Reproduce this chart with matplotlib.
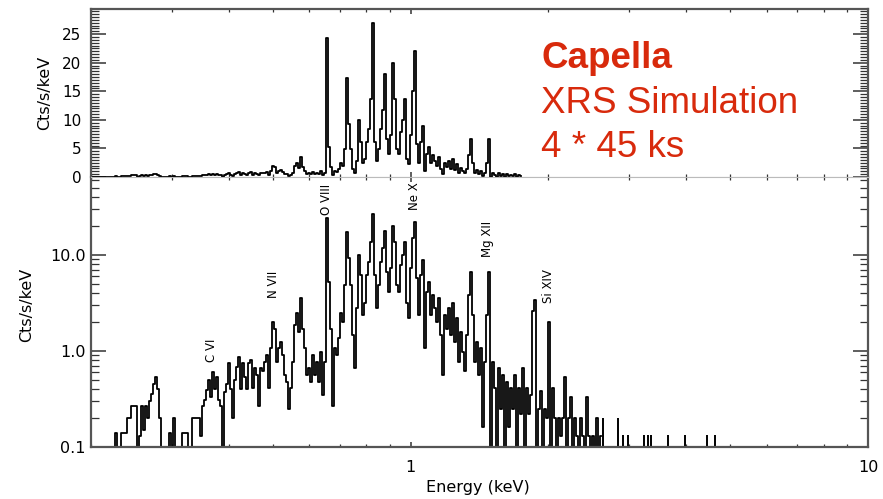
import numpy as np
import matplotlib.pyplot as plt
from matplotlib.ticker import (MultipleLocator, LogLocator, FixedLocator,
                               FixedFormatter, NullFormatter)

# Capella spectrum, XRS simulation (4 x 45 ks), binned on a log energy grid
e_lo, e_hi, n_bins = 0.2014, 2.6047, 255
energy = np.geomspace(e_lo, e_hi, n_bins)          # keV
counts = np.array([                                  # Cts/s/keV
    0, 0, 0, 0, 0, 0, 0, 0, 0, 0,
    0, 0, 0.14, 0, 0, 0.14, 0.14, 0.14, 0.2, 0.2,
    0.27, 0.27, 0.27, 0, 0.13, 0.27, 0.15, 0.27, 0.2, 0.3,
    0.36, 0.45, 0.54, 0.4, 0.2, 0, 0, 0, 0, 0.14,
    0, 0.2, 0, 0, 0, 0.14, 0.14, 0.14, 0, 0,
    0.2, 0.2, 0.2, 0.2, 0.13, 0.27, 0.31, 0.39, 0.5, 0.33,
    0.6, 0.4, 0.54, 0.31, 0.27, 0, 0.37, 0.45, 0.75, 0.4,
    0.2, 0.5, 0.68, 0.86, 0.4, 0.75, 0.54, 0.4, 0.75, 0.81,
    0.41, 0.66, 0.56, 0.27, 0.66, 0.62, 0.77, 0.91, 0.41, 1.07,
    2.0, 1.7, 0.77, 1.07, 1.24, 0.91, 0.56, 0.48, 0.25, 0.41,
    0.77, 1.86, 2.5, 1.58, 3.55, 1.7, 1.07, 0.56, 0.66, 0.48,
    0.91, 0.56, 0.77, 0.48, 0.98, 0.35, 0.77, 24.3, 5.2, 1.7,
    0.27, 1.07, 0.91, 1.37, 2.5, 2.0, 4.9, 17.4, 9.3, 4.9,
    1.47, 0.66, 2.8, 10.0, 6.2, 2.37, 3.2, 6.2, 8.4, 13.6,
    27.0, 6.2, 2.8, 4.9, 8.4, 11.8, 18.0, 6.6, 4.1, 7.3,
    20.0, 13.6, 4.9, 4.1, 7.9, 10.0, 13.6, 3.2, 2.2, 7.3,
    15.0, 22.0, 5.8, 2.4, 6.2, 8.9, 1.07, 4.1, 5.2, 2.4,
    3.8, 2.8, 2.0, 3.55, 1.47, 0.56, 2.4, 1.7, 2.8, 1.47,
    3.2, 1.24, 2.2, 0.77, 1.58, 0.98, 0.62, 1.47, 3.8, 6.6,
    2.4, 0.77, 1.24, 0.56, 1.07, 0.16, 0.77, 2.4, 6.6, 0,
    0.77, 0.41, 0, 0.66, 0.25, 0.56, 0, 0.48, 0.16, 0.41,
    0.25, 0.56, 0, 0.41, 0.22, 0.66, 0, 0.41, 0.22, 0.35,
    2.6, 3.4, 0, 0.25, 0.38, 0, 0.25, 0.2, 2.0, 0,
    0.41, 0.2, 0, 0.2, 0.13, 0.2, 0.53, 0, 0.2, 0.33,
    0, 0.2, 0.13, 0, 0.2, 0.13, 0, 0.33, 0.13, 0,
    0.13, 0, 0.2, 0, 0.13,
])

# single-count bins above 2.6 keV
tail_energy = [2.631, 2.838, 2.910, 2.985, 3.234, 3.301, 3.351, 3.650,
               3.978, 4.443, 4.627]
tail_counts = [0.2, 0.2, 0.133, 0.133, 0.133, 0.133, 0.133, 0.133,
               0.133, 0.133, 0.133]

# line identifications
line_names = ['C VI', 'N VII', 'O VIII', 'Ne X', 'Mg XII', 'Si XIV']
line_energy = [0.3675, 0.5003, 0.6536, 1.0217, 1.4723, 2.0056]
label_level = [0.77, 3.56, 26.1, 29.4, 9.5, 3.16]

top_cut = 1.75   # upper panel only shows the soft band

red = '#d82a0c'
spine_col = '#555555'
plt.rcParams['font.family'] = ['DejaVu Sans']

fig = plt.figure(figsize=(8.83, 4.99), dpi=100)
ax_top = fig.add_axes([0.1031, 0.6453, 0.8800, 0.3367])
ax_bot = fig.add_axes([0.1031, 0.1042, 0.8800, 0.5411], sharex=ax_top)

# upper panel: linear
sel = energy <= top_cut
ax_top.step(energy[sel], counts[sel], where='mid', color='black', lw=1.3,
            clip_on=False, zorder=3)
ax_top.set_ylim(0, 29.4)
ax_top.yaxis.set_major_locator(MultipleLocator(5))
ax_top.yaxis.set_minor_locator(MultipleLocator(0.5))
ax_top.set_ylabel('Cts/s/keV', fontsize=11.5)
ax_top.yaxis.set_label_coords(-0.050, 0.5)
ax_top.tick_params(axis='x', labelbottom=False)

# lower panel: log-log
floor = np.where(counts > 0, counts, 1e-3)
ax_bot.step(energy, floor, where='mid', color='black', lw=1.3)
ax_bot.vlines(tail_energy, 1e-3, tail_counts, color='black', lw=1.4)
ax_bot.set_xscale('log')
ax_bot.set_yscale('log')
ax_bot.set_xlim(0.2, 10)
ax_bot.set_ylim(0.1, 65)

ax_bot.xaxis.set_major_locator(FixedLocator([1, 10]))
ax_bot.xaxis.set_major_formatter(FixedFormatter(['1', '10']))
ax_bot.xaxis.set_minor_locator(LogLocator(base=10, subs=np.arange(2, 10)))
ax_bot.xaxis.set_minor_formatter(NullFormatter())
ax_bot.yaxis.set_major_locator(FixedLocator([0.1, 1, 10]))
ax_bot.yaxis.set_major_formatter(FixedFormatter(['0.1', '1.0', '10.0']))
ax_bot.yaxis.set_minor_locator(LogLocator(base=10, subs=np.arange(2, 10)))
ax_bot.yaxis.set_minor_formatter(NullFormatter())

ax_bot.set_xlabel('Energy (keV)', fontsize=11.5)
ax_bot.xaxis.set_label_coords(0.498, -0.122)
ax_bot.set_ylabel('Cts/s/keV', fontsize=11.5)
ax_bot.yaxis.set_label_coords(-0.073, 0.526)

for name, e, lev in zip(line_names, line_energy, label_level):
    ax_bot.text(e, lev, name, rotation=90, ha='center', va='bottom',
                fontsize=8.5)

for ax in (ax_top, ax_bot):
    ax.tick_params(which='both', direction='in', top=True, right=True,
                   color='#333333', labelsize=11.5)
    ax.tick_params(axis='y', which='major', length=10.8, width=1.1)
    ax.tick_params(axis='y', which='minor', length=5.8, width=0.9)
    ax.tick_params(axis='x', which='major', length=3.5, width=1.1, pad=9)
    ax.tick_params(axis='x', which='minor', length=2.0, width=0.9)
    for s in ax.spines.values():
        s.set_color(spine_col)
        s.set_linewidth(1.6)
ax_top.tick_params(axis='y', pad=7, labelsize=11)
ax_bot.tick_params(axis='y', pad=4)
ax_top.spines['bottom'].set_color('#bbbbbb')
ax_top.spines['bottom'].set_linewidth(0.8)
ax_bot.spines['top'].set_color('#bbbbbb')
ax_bot.spines['top'].set_linewidth(0.8)

# title block
fig.text(0.6127, 0.8637, 'Capella', color=red, fontsize=26.5,
         fontweight='bold', family='Liberation Sans', va='baseline')
fig.text(0.6127, 0.7735, 'XRS Simulation', color=red, fontsize=26.5,
         family='Liberation Sans', va='baseline')
fig.text(0.6127, 0.6854, '4 * 45 ks', color=red, fontsize=26.5,
         family='Liberation Sans', va='baseline')

fig.savefig('out.png', dpi=100)
